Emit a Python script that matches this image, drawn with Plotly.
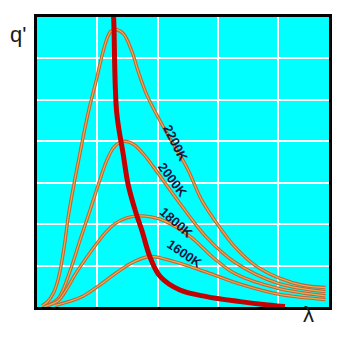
import plotly.graph_objects as go

# wavelength (grid units, ~µm) and intensity q' (grid units)
lam_2200 = [0.08, 0.17, 0.27, 0.36, 0.45, 0.52, 0.63, 0.74, 0.85, 0.99, 1.07, 1.16, 1.22, 1.29, 1.43, 1.57, 1.67, 1.82, 2.12, 2.49, 2.73, 3.03, 3.28, 3.62, 4.03, 4.39, 4.78]
q_2200 = [0.03, 0.12, 0.33, 0.72, 1.45, 2.20, 3.10, 3.92, 4.70, 5.52, 6.02, 6.48, 6.65, 6.70, 6.60, 6.18, 5.72, 5.12, 4.28, 3.35, 2.58, 1.92, 1.45, 1.00, 0.69, 0.53, 0.47]

lam_2000 = [0.13, 0.35, 0.55, 0.71, 0.88, 1.04, 1.16, 1.27, 1.37, 1.46, 1.60, 1.76, 1.92, 2.40, 2.80, 3.28, 4.00, 4.78]
q_2000 = [0.01, 0.20, 0.88, 1.60, 2.34, 3.06, 3.55, 3.85, 3.97, 4.00, 3.93, 3.70, 3.40, 2.44, 1.70, 1.08, 0.57, 0.37]

lam_1800 = [0.19, 0.35, 0.50, 0.63, 0.80, 1.00, 1.15, 1.30, 1.50, 1.71, 2.04, 2.54, 2.90, 3.28, 4.00, 4.78]
q_1800 = [0.04, 0.15, 0.45, 0.78, 1.15, 1.55, 1.82, 2.02, 2.16, 2.20, 2.12, 1.70, 1.22, 0.81, 0.45, 0.27]

lam_1600 = [0.30, 0.55, 0.76, 1.04, 1.33, 1.59, 1.87, 2.26, 2.81, 3.37, 4.00, 4.78]
q_1600 = [0.04, 0.14, 0.26, 0.53, 0.84, 1.08, 1.22, 1.10, 0.84, 0.55, 0.31, 0.18]

lam_peak = [1.25, 1.27, 1.32, 1.43, 1.51, 1.63, 1.74, 1.87, 2.04, 2.37, 2.81, 3.37, 3.83, 4.11]
q_peak = [7.4, 7.0, 4.71, 3.68, 2.96, 2.32, 1.84, 1.22, 0.74, 0.41, 0.25, 0.13, 0.05, 0.01]

labels = ["2200K", "2000K", "1800K", "1600K"]
label_lam = [2.30, 2.24, 2.31, 2.44]
label_q = [3.95, 3.07, 2.04, 1.28]
label_angle = [63, 53, 41, 34]

fig = go.Figure()

curves = [(lam_2200, q_2200), (lam_2000, q_2000), (lam_1800, q_1800), (lam_1600, q_1600)]
for lx, qy in curves:
    fig.add_trace(go.Scatter(x=lx, y=qy, mode="lines", line=dict(color="#b8693a", width=3.4, shape="spline", smoothing=1.0), hoverinfo="skip"))
    fig.add_trace(go.Scatter(x=lx, y=qy, mode="lines", line=dict(color="#f5a846", width=1.2, shape="spline", smoothing=1.0), hoverinfo="skip"))

fig.add_trace(go.Scatter(x=lam_peak, y=q_peak, mode="lines", line=dict(color="#c40000", width=5, shape="spline", smoothing=1.0), hoverinfo="skip"))

annotations = []
for t, lx, qy, a in zip(labels, label_lam, label_q, label_angle):
    annotations.append(dict(x=lx, y=qy, xref="x", yref="y", text="<b>" + t + "</b>", showarrow=False,
                            textangle=a, font=dict(family="Liberation Sans", size=13, color="#14143c")))
annotations.append(dict(x=-0.03, y=0.94, xref="paper", yref="paper", xanchor="right", yanchor="middle",
                        text="q'", showarrow=False,
                        font=dict(family="Liberation Sans", size=22, color="#1a1a1a")))
annotations.append(dict(x=0.955, y=-0.075, xref="paper", yref="paper", text="λ", showarrow=False,
                        font=dict(family="Liberation Sans", size=22, color="#1a1a1a")))

# the page body has an 8px margin, so the figure is 8px smaller and its left/top margins 8px narrower
fig.update_layout(
    width=332, height=341,
    margin=dict(l=29, r=11, t=6, b=42),
    paper_bgcolor="white", plot_bgcolor="#00ffff",
    showlegend=False,
    annotations=annotations,
    xaxis=dict(range=[0, 4.84], tick0=0, dtick=1, showticklabels=False, ticks="",
               showgrid=True, gridcolor="white", gridwidth=2, zeroline=False,
               showline=True, linecolor="black", linewidth=3, mirror=True),
    yaxis=dict(range=[0, 7], tick0=0, dtick=1, showticklabels=False, ticks="",
               showgrid=True, gridcolor="white", gridwidth=2, zeroline=False,
               showline=True, linecolor="black", linewidth=3, mirror=True),
)

fig.write_html("out.html")
